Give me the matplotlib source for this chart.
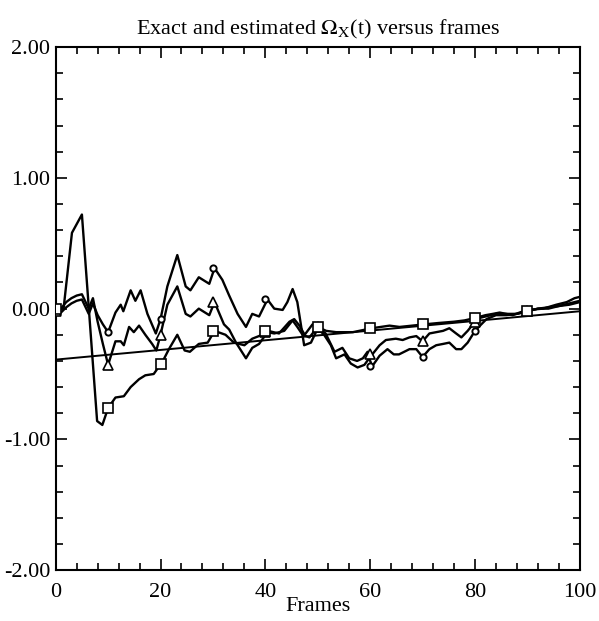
import numpy as np
import matplotlib
matplotlib.use("Agg")
import matplotlib.pyplot as plt
from matplotlib.ticker import MultipleLocator

plt.rcParams['font.family'] = ['Liberation Serif', 'DejaVu Serif']
plt.rcParams['mathtext.fontset'] = 'stix'

# exact value (straight line)
exact_f = [0, 100]
exact_v = [-0.39, -0.02]

# estimate with circle markers
circ_f = [0, 1, 2, 3, 4, 5, 6.3, 7.1, 8, 9, 10, 11.4, 12.4, 12.9, 14.3, 15.2, 16.2, 17.5,
          19.1, 20, 21.3, 23.2, 24.8, 25.7, 27.3, 29.3, 30.3, 31.8, 33.1, 34.7, 36.3, 37.5,
          38.8, 40.4, 41.7, 43.3, 44.2, 45.2, 46.1, 47.4, 48.7, 50, 51.2, 52.5, 53.5, 55.1,
          56.3, 57.6, 58.9, 59.8, 60.4, 61.8, 63.3, 64.5, 65.5, 67.5, 68.8, 70, 71.3, 72.6,
          73.9, 75.1, 76.4, 77.4, 78.6, 80, 81.2, 82.2, 84, 86, 88, 90, 92, 94, 96, 98, 100]
circ_v = [-0.02, -0.03, 0.01, 0.04, 0.06, 0.07, -0.04, 0.04, -0.05, -0.12, -0.18, -0.03, 0.03,
          -0.02, 0.14, 0.06, 0.14, -0.04, -0.19, -0.08, 0.17, 0.41, 0.17, 0.14, 0.24, 0.19,
          0.31, 0.22, 0.10, -0.04, -0.14, -0.04, -0.06, 0.07, 0.0, -0.01, 0.05, 0.15, 0.05,
          -0.28, -0.26, -0.15, -0.20, -0.28, -0.38, -0.35, -0.42, -0.45, -0.43, -0.38, -0.44,
          -0.36, -0.31, -0.35, -0.35, -0.31, -0.31, -0.37, -0.31, -0.28, -0.27, -0.26, -0.31,
          -0.31, -0.26, -0.17, -0.12, -0.08, -0.05, -0.05, -0.04, -0.02, 0.0, 0.0, 0.02,
          0.03, 0.05]
circ_mf = [0, 10, 20, 30, 40, 50, 60, 70, 80, 90]
circ_mv = [-0.02, -0.18, -0.08, 0.31, 0.07, -0.15, -0.44, -0.37, -0.17, -0.02]

# estimate with triangle markers
tri_f = [0, 1, 2, 3, 4, 5, 6.3, 7.1, 8, 9, 10, 11.4, 12.4, 13, 14, 14.9, 15.9, 17.1, 18.4,
         19.2, 20, 21.3, 23.2, 24.8, 25.7, 27.3, 29.3, 30.3, 32.1, 33.1, 34.4, 36.3, 37.5,
         38.8, 40.4, 41.7, 43.6, 45.2, 46.1, 47.1, 48.4, 50, 51.5, 53.2, 54.7, 56, 57.5,
         58.6, 59.5, 60.4, 61.8, 63, 64.9, 66.2, 67.5, 68.8, 70, 71.3, 72.6, 73.9, 75.1,
         76.4, 77.4, 78.6, 80, 81, 82, 84, 86, 88, 90, 92, 94, 96, 98, 100]
tri_v = [-0.02, 0.0, 0.05, 0.08, 0.10, 0.11, 0.0, 0.08, -0.10, -0.27, -0.43, -0.25, -0.25,
         -0.28, -0.14, -0.18, -0.13, -0.20, -0.27, -0.32, -0.20, 0.03, 0.17, -0.04, -0.06,
         0.0, -0.05, 0.05, -0.12, -0.16, -0.26, -0.38, -0.30, -0.27, -0.18, -0.19, -0.17,
         -0.09, -0.14, -0.20, -0.22, -0.14, -0.19, -0.33, -0.30, -0.38, -0.40, -0.38, -0.33,
         -0.35, -0.28, -0.24, -0.23, -0.24, -0.22, -0.21, -0.25, -0.19, -0.18, -0.17, -0.15,
         -0.19, -0.22, -0.17, -0.10, -0.07, -0.06, -0.04, -0.04, -0.04, -0.02, 0.0, 0.01,
         0.02, 0.04, 0.06]
tri_mf = [0, 10, 20, 30, 40, 50, 60, 70, 80, 90]
tri_mv = [-0.02, -0.43, -0.20, 0.05, -0.18, -0.14, -0.35, -0.25, -0.10, -0.02]

# estimate with square markers
sq_f = [0, 1.5, 3.1, 5, 7.9, 8.9, 10, 11.4, 13, 14.3, 15.9, 17.1, 18.7, 19.4, 20.2, 21.6,
        23.2, 24.6, 25.6, 27.3, 29, 30.3, 32.4, 34, 36, 37.5, 39.4, 40.5, 42.6, 44.6, 45.5,
        46.5, 47.5, 49, 50, 51.6, 53.5, 56.7, 60.3, 63.7, 65.6, 68, 70.4, 73, 76, 78, 80.2,
        82, 83.4, 84.7, 87.2, 88.5, 90, 93, 95.5, 97.5, 99, 100]
sq_v = [0.0, 0.0, 0.58, 0.72, -0.86, -0.89, -0.76, -0.68, -0.67, -0.60, -0.54, -0.51,
        -0.50, -0.46, -0.42, -0.31, -0.20, -0.32, -0.33, -0.27, -0.26, -0.17, -0.20, -0.26,
        -0.28, -0.23, -0.20, -0.17, -0.19, -0.10, -0.08, -0.13, -0.20, -0.12, -0.14, -0.17,
        -0.18, -0.18, -0.15, -0.13, -0.14, -0.13, -0.12, -0.11, -0.10, -0.09, -0.07, -0.05,
        -0.04, -0.03, -0.05, -0.03, -0.01, 0.0, 0.03, 0.05, 0.08, 0.09]
sq_mf = [0, 10, 20, 30, 40, 50, 60, 70, 80, 90]
sq_mv = [0.0, -0.76, -0.42, -0.17, -0.17, -0.14, -0.15, -0.12, -0.07, -0.02]

fig = plt.figure(figsize=(5.99, 6.21), dpi=100)
ax = fig.add_axes([0.093, 0.082, 0.875, 0.842])

lw = 1.7
ax.plot(exact_f, exact_v, 'k-', lw=1.4)
ax.plot(circ_f, circ_v, 'k-', lw=lw)
ax.plot(tri_f, tri_v, 'k-', lw=lw)
ax.plot(sq_f, sq_v, 'k-', lw=lw)
ax.plot(circ_mf, circ_mv, 'o', ms=4.5, mfc='white', mec='k', mew=1.4, zorder=5)
ax.plot(tri_mf, tri_mv, '^', ms=7, mfc='white', mec='k', mew=1.2, zorder=5)
ax.plot(sq_mf, sq_mv, 's', ms=7.5, mfc='white', mec='k', mew=1.2, zorder=5)

ax.set_xlim(0, 100)
ax.set_ylim(-2, 2)
ax.xaxis.set_major_locator(MultipleLocator(20))
ax.xaxis.set_minor_locator(MultipleLocator(4))
ax.yaxis.set_major_locator(MultipleLocator(1))
ax.yaxis.set_minor_locator(MultipleLocator(0.2))
ax.yaxis.set_major_formatter(matplotlib.ticker.FormatStrFormatter('%.2f'))
ax.tick_params(which='both', direction='in', top=True, right=True, width=1.2)
ax.tick_params(which='major', length=8, labelsize=16)
ax.tick_params(which='minor', length=5)
ax.tick_params(axis='x', pad=9)
ax.tick_params(axis='y', pad=4)
for sp in ax.spines.values():
    sp.set_linewidth(1.5)

ax.set_xlabel("Frames", fontsize=16, labelpad=-3)
ax.set_title(r"Exact and estimated $\Omega_{\mathrm{X}}$(t) versus frames", fontsize=16, pad=9)

plt.savefig("out.png", dpi=100)
